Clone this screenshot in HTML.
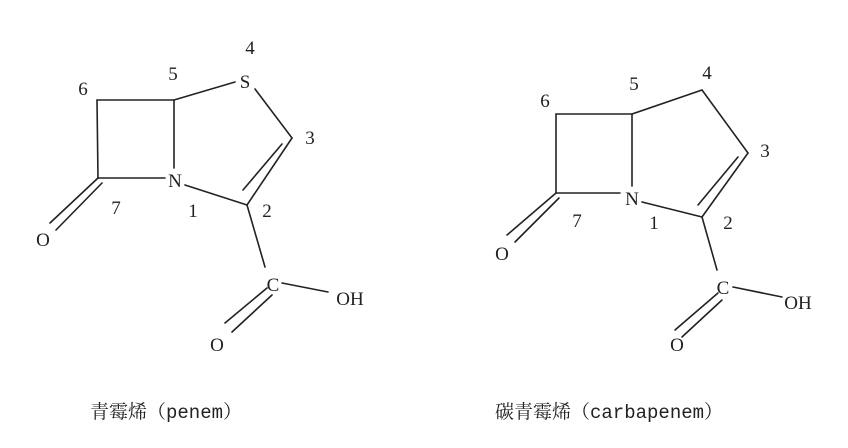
<!DOCTYPE html>
<html><head><meta charset="utf-8"><style>
html,body{margin:0;padding:0;background:#fff;}
svg{display:block}
text{font-family:"Liberation Serif","Noto Serif CJK SC",serif;fill:#222;}
.c{font-family:"Liberation Mono","Noto Serif CJK SC",monospace;font-size:19px;}
</style></head><body>
<svg width="848" height="448" viewBox="0 0 848 448" xmlns="http://www.w3.org/2000/svg">
<g stroke="#222" stroke-width="1.6" fill="none" stroke-linecap="round">
<polyline points="98,178 97,100 174,100 174,168"/>
<line x1="98" y1="178" x2="165" y2="178"/>
<line x1="98" y1="178" x2="50" y2="223"/>
<line x1="102" y1="183" x2="56" y2="230"/>
<line x1="174" y1="100" x2="235" y2="82"/>
<line x1="255" y1="89" x2="292" y2="138"/>
<line x1="292" y1="138" x2="247" y2="205"/>
<line x1="282" y1="144" x2="243" y2="190"/>
<line x1="185" y1="185" x2="247" y2="205"/>
<line x1="247" y1="205" x2="265" y2="267"/>
<line x1="282" y1="283" x2="328" y2="292"/>
<line x1="267" y1="288" x2="225" y2="323"/>
<line x1="272" y1="295" x2="232" y2="332"/>
<polyline points="556,193 556,114 632,114 632,186"/>
<line x1="556" y1="193" x2="620" y2="193"/>
<line x1="556" y1="193" x2="507" y2="235"/>
<line x1="559" y1="198" x2="515" y2="242"/>
<line x1="632" y1="114" x2="702" y2="90"/>
<line x1="702" y1="90" x2="748" y2="153"/>
<line x1="748" y1="153" x2="702" y2="217"/>
<line x1="738" y1="157" x2="698" y2="205"/>
<line x1="642" y1="202" x2="702" y2="217"/>
<line x1="702" y1="217" x2="717" y2="270"/>
<line x1="733" y1="287" x2="782" y2="297"/>
<line x1="718" y1="293" x2="675" y2="330"/>
<line x1="722" y1="300" x2="682" y2="337"/>
</g>
<g font-size="19" text-anchor="middle">
<text x="175" y="187">N</text><text x="245" y="88">S</text>
<text x="43" y="246">O</text><text x="273" y="291">C</text>
<text x="217" y="351">O</text><text x="350" y="305">OH</text>
<text x="83" y="95">6</text><text x="173" y="80">5</text><text x="250" y="54">4</text>
<text x="310" y="144">3</text><text x="267" y="217">2</text><text x="193" y="217">1</text>
<text x="116" y="214">7</text>
<text x="632" y="205">N</text>
<text x="502" y="260">O</text><text x="723" y="294">C</text>
<text x="677" y="351">O</text><text x="798" y="309">OH</text>
<text x="545" y="107">6</text><text x="634" y="90">5</text><text x="707" y="79">4</text>
<text x="765" y="157">3</text><text x="728" y="229">2</text><text x="654" y="229">1</text>
<text x="577" y="227">7</text>
</g>
<text class="c" x="90" y="418">青霉烯（penem）</text>
<text class="c" x="495" y="418">碳青霉烯（carbapenem）</text>
</svg>
</body></html>
